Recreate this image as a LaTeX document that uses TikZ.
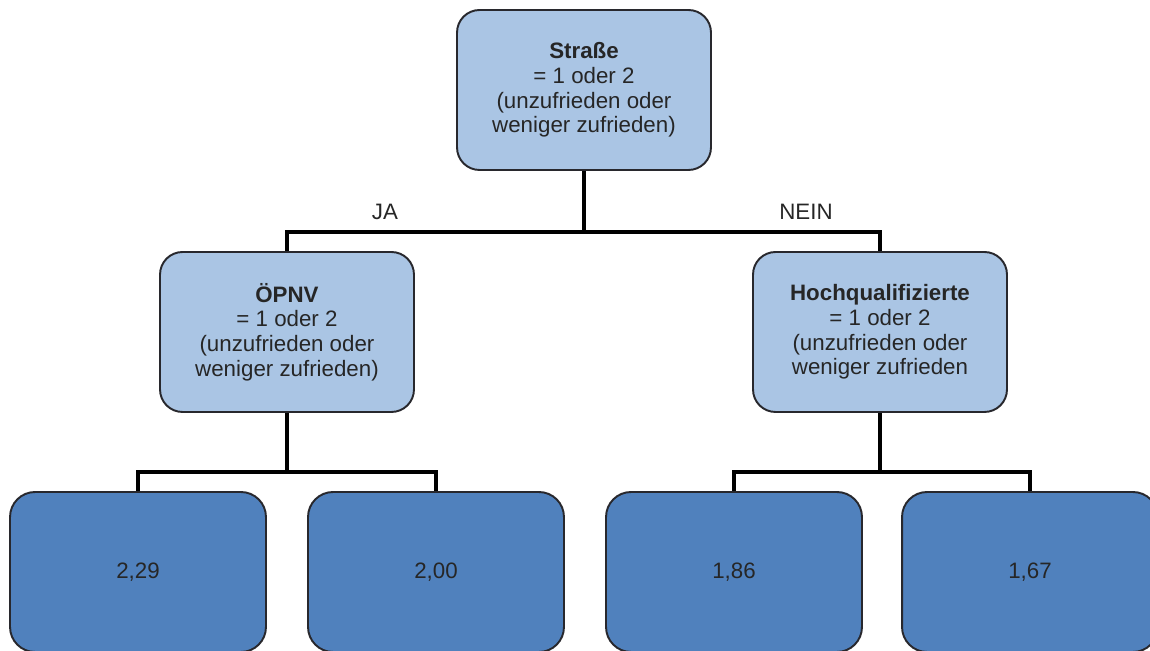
\documentclass[tikz,border=0pt]{standalone}
\usepackage{fontspec}
\setmainfont{Liberation Sans}
\usepackage{tikz}

\definecolor{hellblau}{RGB}{170,197,228}
\definecolor{blattblau}{RGB}{80,129,189}
\definecolor{rand}{RGB}{40,40,45}

\tikzset{
    txt/.style={font=\fontsize{12.7}{14}\selectfont, text=black!85},
    frage/.style={txt, draw=rand, line width=1.1pt, fill=hellblau, rounded corners=0.45cm,
        minimum width=5.08cm, minimum height=3.2cm, align=center, inner sep=2pt},
    blatt/.style={txt, draw=rand, line width=1.1pt, fill=blattblau, rounded corners=0.5cm,
        minimum width=5.12cm, minimum height=3.2cm},
    ast/.style={line width=2.3pt, black}
}

\begin{document}
\begin{tikzpicture}[x=0.02cm,y=-0.02cm]
    \useasboundingbox (0,0) rectangle (1150,651);

    % 上方节点
    \node[frage] (strasse) at (584,90) {\textbf{Straße}\\= 1 oder 2\\(unzufrieden oder\\weniger zufrieden)};

    % 中间节点
    \node[frage] (oepnv) at (287,332) {\textbf{ÖPNV}\\= 1 oder 2\\(unzufrieden oder\\weniger zufrieden)};
    \node[frage] (hochq) at (880,332) {\textbf{Hochqualifizierte}\\= 1 oder 2\\(unzufrieden oder\\weniger zufrieden};

    % 下方节点
    \node[blatt] (b1) at (138,572) {2,29};
    \node[blatt] (b2) at (436,572) {2,00};
    \node[blatt] (b3) at (734,572) {1,86};
    \node[blatt] (b4) at (1030,572) {1,67};

    % 连线
    \coordinate (k1) at (584,232);
    \coordinate (k2) at (287,472);
    \coordinate (k3) at (880,472);
    \draw[ast] (strasse.south) -- (k1);
    \draw[ast] (oepnv.north) |- (k1) -| (hochq.north);
    \draw[ast] (oepnv.south) -- (k2);
    \draw[ast] (b1.north) |- (k2) -| (b2.north);
    \draw[ast] (hochq.south) -- (k3);
    \draw[ast] (b3.north) |- (k3) -| (b4.north);

    % 分支标签
    \node[txt] (ja) at (385,212) {JA};
    \node[txt] (nein) at (806,212) {NEIN};
\end{tikzpicture}
\end{document}
